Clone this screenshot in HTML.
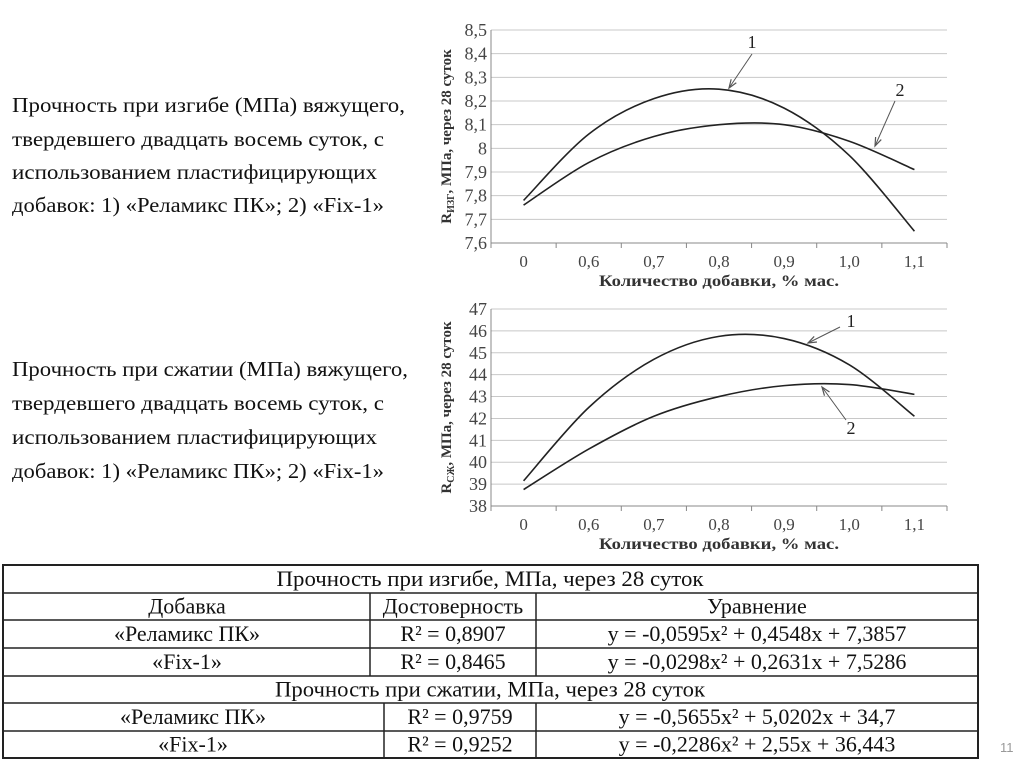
<!DOCTYPE html>
<html><head><meta charset="utf-8"><style>
html,body{margin:0;padding:0;background:#fff;width:1024px;height:767px;overflow:hidden}
svg{display:block;font-family:"Liberation Serif","Noto Serif CJK SC",serif}
</style></head><body>
<svg id="page" width="1024" height="767" viewBox="0 0 1024 767">
<g font-size="21" fill="#111">
<text x="12" y="112" textLength="393" lengthAdjust="spacingAndGlyphs">Прочность при изгибе (МПа) вяжущего,</text>
<text x="12" y="146" textLength="372" lengthAdjust="spacingAndGlyphs">твердевшего двадцать восемь суток, с</text>
<text x="12" y="179" textLength="365" lengthAdjust="spacingAndGlyphs">использованием пластифицирующих</text>
<text x="12" y="212" textLength="372" lengthAdjust="spacingAndGlyphs">добавок: 1) «Реламикс ПК»; 2) «Fix-1»</text>
</g>
<g font-size="21" fill="#111">
<text x="12" y="376" textLength="396" lengthAdjust="spacingAndGlyphs">Прочность при сжатии (МПа) вяжущего,</text>
<text x="12" y="410" textLength="372" lengthAdjust="spacingAndGlyphs">твердевшего двадцать восемь суток, с</text>
<text x="12" y="444" textLength="365" lengthAdjust="spacingAndGlyphs">использованием пластифицирующих</text>
<text x="12" y="478" textLength="372" lengthAdjust="spacingAndGlyphs">добавок: 1) «Реламикс ПК»; 2) «Fix-1»</text>
</g>
<g id="chart1"></g>
<g id="chart2"></g>
<g font-size="22" fill="#111" text-anchor="middle" id="tbl"></g>
<text x="1000" y="752" font-size="13" fill="#999" font-family="Liberation Sans, sans-serif">11</text>
</svg>
<script>
const categories = ["0","0,6","0,7","0,8","0,9","1,0","1,1"];
const flexTicks = ["7,6","7,7","7,8","7,9","8","8,1","8,2","8,3","8,4","8,5"];
const flexSeries1 = [7.78, 8.06, 8.21, 8.25, 8.17, 7.97, 7.65];
const flexSeries2 = [7.76, 7.94, 8.05, 8.10, 8.10, 8.03, 7.91];
const compTicks = ["38","39","40","41","42","43","44","45","46","47"];
const compSeries1 = [39.15, 42.5, 44.7, 45.75, 45.65, 44.45, 42.1];
const compSeries2 = [38.75, 40.6, 42.1, 43.0, 43.5, 43.55, 43.1];
const NS = "http://www.w3.org/2000/svg";
function mk(parent, tag, attrs, txt){
  const e = document.createElementNS(NS, tag);
  for (const k in attrs) e.setAttribute(k, attrs[k]);
  if (txt !== undefined) e.textContent = txt;
  parent.appendChild(e); return e;
}
function smooth(pts){
  let d = "M"+pts[0][0]+","+pts[0][1];
  for (let i=0;i<pts.length-1;i++){
    const p0=pts[Math.max(0,i-1)], p1=pts[i], p2=pts[i+1], p3=pts[Math.min(pts.length-1,i+2)];
    const c1=[p1[0]+(p2[0]-p0[0])/6, p1[1]+(p2[1]-p0[1])/6];
    const c2=[p2[0]-(p3[0]-p1[0])/6, p2[1]-(p3[1]-p1[1])/6];
    d += " C"+c1.join(",")+" "+c2.join(",")+" "+p2.join(",");
  }
  return d;
}
function chart(g, ticks, vmin, vmax, top, bottom, s1, s2, ytitle, sub, ann){
  const x0=491, x1=947, band=(x1-x0)/categories.length;
  const X = i => x0 + band*(i+0.5);
  const Y = v => bottom - (v-vmin)/(vmax-vmin)*(bottom-top);
  ticks.forEach((t,i)=>{
    const v = vmin + i*(vmax-vmin)/(ticks.length-1);
    const l = mk(g,"line",{x1:x0,x2:x1,y1:Y(v),y2:Y(v),stroke:i==0?"#888":"#c8c8c8","stroke-width":1});
    
    
    const tx = mk(g,"text",{x:487,y:Y(v)+6,"text-anchor":"end","font-size":18,fill:"#444"},t);
    
    
  });
  mk(g,"line",{x1:x0,x2:x0,y1:top,y2:bottom,stroke:"#888"});
  for(let i=0;i<=categories.length;i++) mk(g,"line",{x1:x0+band*i,x2:x0+band*i,y1:bottom,y2:bottom+5,stroke:"#888"});
  categories.forEach((c,i)=>{
    const tx = mk(g,"text",{x:X(i),y:bottom+24,"text-anchor":"middle","font-size":17,fill:"#444"},c);
    
    
  });
  const xt = mk(g,"text",{x:719,y:bottom+43,"text-anchor":"middle","font-size":16,"font-weight":"bold",fill:"#333",textLength:240,lengthAdjust:"spacingAndGlyphs"},"Количество добавки, % мас.");
  
  
  const cy=(top+bottom)/2;
  const yt = mk(g,"text",{x:0,y:0,"text-anchor":"middle","font-size":15,"font-weight":"bold",fill:"#333",transform:`translate(451,${cy}) rotate(-90)`});
  mk(yt,"tspan",{},"R");
  mk(yt,"tspan",{"font-size":10,dy:3},sub);
  mk(yt,"tspan",{dy:-3},ytitle);
  
  
  [s1,s2].forEach((s,k)=>{
    const p = mk(g,"path",{d:smooth(s.map((v,i)=>[X(i),Y(v)])),fill:"none",stroke:"#222","stroke-width":1.6});
    
    
  });
  ann.forEach(a=>{
    const t = mk(g,"text",{x:a[0],y:a[1],"font-size":18,fill:"#222","text-anchor":"middle"},a[2]);
    
    
    mk(g,"line",{x1:a[3],y1:a[4],x2:a[5],y2:a[6],stroke:"#555","stroke-width":1});
    const ang=Math.atan2(a[6]-a[4],a[5]-a[3]);
    const h=(d)=>[a[5]-9*Math.cos(ang+d),a[6]-9*Math.sin(ang+d)];
    const p1=h(0.35),p2=h(-0.35);
    mk(g,"polyline",{points:`${p1} ${a[5]},${a[6]} ${p2}`,fill:"none",stroke:"#555","stroke-width":1.2});
  });
}
chart(document.getElementById("chart1"), flexTicks, 7.6, 8.5, 30, 243, flexSeries1, flexSeries2, ", МПа, через 28 суток","ИЗГ",
  [[752,48,"1",752,54,729,88],[900,96,"2",895,101,875,146]]);
chart(document.getElementById("chart2"), compTicks, 38, 47, 309, 506, compSeries1, compSeries2, ", МПа, через 28 суток","СЖ",
  [[851,327,"1",840,327,808,343],[851,434,"2",846,420,822,387]]);
// table
const T=document.getElementById("tbl");
const rows=[565,593,620,648,676,703,731,758];
mk(T,"rect",{x:3,y:565,width:975,height:193,fill:"none",stroke:"#222","stroke-width":2});
rows.slice(1,-1).forEach(y=>mk(T,"line",{x1:3,x2:978,y1:y,y2:y,stroke:"#222","stroke-width":1.5}));
[[370,593,676],[536,593,676],[384,703,758],[536,703,758]].forEach(l=>mk(T,"line",{x1:l[0],x2:l[0],y1:l[1],y2:l[2],stroke:"#222","stroke-width":1.5}));
const cells=[
 [490,0,"Прочность при изгибе, МПа, через 28 суток",427],
 [187,1,"Добавка",0],[453,1,"Достоверность",0],[757,1,"Уравнение",0],
 [187,2,"«Реламикс ПК»",0],[453,2,"R² = 0,8907",0],[757,2,"y = -0,0595x² + 0,4548x + 7,3857",0],
 [187,3,"«Fix-1»",0],[453,3,"R² = 0,8465",0],[757,3,"y = -0,0298x² + 0,2631x + 7,5286",0],
 [490,4,"Прочность при сжатии, МПа, через 28 суток",430],
 [193,5,"«Реламикс ПК»",0],[460,5,"R² = 0,9759",0],[757,5,"y = -0,5655x² + 5,0202x + 34,7",0],
 [193,6,"«Fix-1»",0],[460,6,"R² = 0,9252",0],[757,6,"y = -0,2286x² + 2,55x + 36,443",0]];
cells.forEach(c=>{
  const at={x:c[0],y:(rows[c[1]]+rows[c[1]+1])/2+7};
  if(c[3]){at.textLength=c[3];at.lengthAdjust="spacingAndGlyphs";}
  const t=mk(T,"text",at,c[2]);
  
  
});
</script>
</body></html>
